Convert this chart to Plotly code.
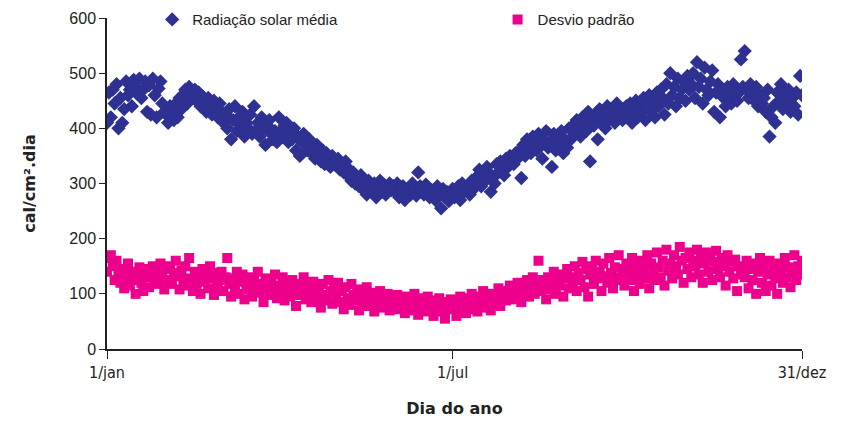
import plotly.graph_objects as go

radiacao_jan = [410, 465, 420, 470, 445, 480, 400, 455, 410, 435, 485, 460, 470, 440, 488, 475, 462, 490, 455, 470, 485, 430, 478, 425, 490, 460, 420, 472, 485, 445, 430]
radiacao_fev = [425, 410, 440, 430, 415, 445, 420, 455, 435, 460, 470, 445, 475, 462, 455, 470, 450, 465, 440, 458, 448, 430, 455, 440, 425, 450, 435, 420]
radiacao_mar = [445, 430, 410, 425, 400, 435, 380, 415, 440, 395, 420, 405, 430, 385, 410, 400, 425, 390, 440, 395, 410, 385, 420, 400, 370, 405, 415, 390, 380, 395, 375]
radiacao_abr = [420, 395, 385, 405, 410, 375, 395, 380, 400, 360, 385, 350, 375, 390, 370, 360, 380, 355, 365, 345, 370, 350, 340, 360, 335, 355, 345, 330, 350, 340]
radiacao_mai = [335, 345, 325, 330, 320, 340, 315, 325, 305, 320, 300, 310, 295, 315, 290, 300, 280, 305, 290, 285, 300, 275, 295, 305, 285, 298, 280, 292, 300, 288, 295]
radiacao_jun = [285, 300, 275, 290, 295, 270, 285, 292, 280, 300, 290, 278, 320, 295, 285, 280, 298, 290, 275, 288, 285, 270, 295, 280, 255, 290, 275, 285, 268, 280]
radiacao_jul = [290, 275, 285, 295, 270, 300, 285, 290, 295, 280, 305, 290, 310, 300, 325, 295, 315, 305, 330, 320, 285, 310, 300, 335, 320, 340, 325, 315, 345, 330, 350]
radiacao_ago = [340, 335, 355, 345, 360, 310, 370, 350, 380, 365, 355, 385, 375, 360, 390, 370, 345, 380, 395, 365, 375, 330, 390, 360, 385, 370, 395, 355, 380, 365, 400]
radiacao_set = [380, 405, 390, 415, 400, 385, 420, 410, 395, 430, 340, 415, 405, 425, 380, 435, 410, 420, 400, 440, 415, 430, 425, 410, 445, 420, 435, 415, 430, 440]
radiacao_out = [425, 445, 410, 435, 450, 420, 440, 430, 455, 415, 445, 460, 430, 450, 420, 465, 440, 470, 455, 425, 480, 445, 500, 460, 475, 440, 490, 455, 470, 485, 450]
radiacao_nov = [495, 470, 480, 500, 455, 520, 475, 490, 445, 510, 470, 460, 485, 505, 430, 465, 480, 420, 470, 455, 440, 475, 460, 445, 480, 470, 450, 465, 525, 475]
radiacao_dez = [540, 470, 455, 480, 465, 450, 475, 440, 460, 445, 455, 430, 470, 385, 420, 440, 410, 465, 450, 480, 435, 460, 445, 470, 430, 455, 440, 465, 425, 495, 460]

desvio_jan = [140, 165, 170, 150, 125, 160, 135, 120, 145, 110, 130, 155, 115, 140, 125, 100, 135, 148, 120, 105, 130, 145, 112, 138, 150, 125, 140, 118, 155, 132, 108]
desvio_fev = [145, 125, 150, 118, 138, 160, 132, 108, 142, 125, 150, 115, 165, 128, 105, 140, 118, 132, 100, 145, 122, 135, 110, 150, 128, 98, 138, 115]
desvio_mar = [125, 140, 105, 130, 165, 118, 95, 128, 112, 140, 100, 122, 135, 90, 118, 108, 130, 95, 125, 112, 140, 102, 118, 85, 128, 110, 98, 122, 105, 135, 92]
desvio_abr = [115, 100, 130, 88, 120, 105, 95, 125, 110, 78, 118, 98, 108, 130, 90, 115, 100, 85, 122, 105, 92, 112, 75, 118, 98, 88, 125, 105, 82, 110]
desvio_mai = [95, 120, 85, 105, 72, 112, 92, 80, 118, 98, 88, 108, 70, 100, 85, 95, 112, 78, 102, 90, 68, 98, 85, 105, 75, 92, 82, 100, 70, 88, 95]
desvio_jun = [80, 98, 72, 90, 85, 65, 95, 78, 88, 70, 100, 82, 62, 92, 75, 85, 68, 95, 80, 72, 60, 88, 75, 92, 68, 80, 55, 85, 72, 90]
desvio_jul = [75, 88, 60, 82, 95, 70, 85, 65, 92, 78, 100, 72, 88, 68, 95, 80, 105, 75, 90, 85, 70, 100, 82, 95, 110, 78, 92, 105, 88, 98, 115]
desvio_ago = [90, 108, 95, 120, 100, 85, 115, 105, 125, 95, 110, 130, 100, 118, 160, 105, 125, 112, 90, 130, 108, 120, 140, 100, 125, 115, 135, 95, 128, 145, 110]
desvio_set = [130, 120, 150, 105, 138, 125, 158, 112, 145, 95, 135, 150, 118, 160, 128, 140, 105, 155, 132, 120, 165, 138, 110, 148, 125, 170, 130, 145, 115, 155]
desvio_out = [140, 125, 165, 105, 150, 135, 118, 160, 145, 128, 170, 110, 155, 138, 125, 175, 148, 130, 160, 115, 180, 142, 155, 128, 170, 150, 135, 185, 160, 120, 165]
desvio_nov = [145, 175, 130, 160, 150, 180, 135, 165, 120, 155, 175, 140, 168, 125, 158, 178, 145, 130, 165, 150, 115, 170, 140, 158, 128, 162, 105, 150, 135, 145]
desvio_dez = [130, 160, 110, 145, 125, 155, 100, 140, 165, 120, 150, 105, 135, 160, 115, 145, 128, 100, 155, 138, 120, 165, 130, 148, 112, 140, 170, 125, 150, 135, 160]

tick_days = [1, 182, 365]
tick_labels = ["1/jan", "1/jul", "31/dez"]

radiacao = (radiacao_jan + radiacao_fev + radiacao_mar + radiacao_abr + radiacao_mai + radiacao_jun
            + radiacao_jul + radiacao_ago + radiacao_set + radiacao_out + radiacao_nov + radiacao_dez)
desvio = (desvio_jan + desvio_fev + desvio_mar + desvio_abr + desvio_mai + desvio_jun
          + desvio_jul + desvio_ago + desvio_set + desvio_out + desvio_nov + desvio_dez)
dias = list(range(1, len(radiacao) + 1))

fig = go.Figure()
fig.add_trace(go.Scatter(
    x=dias, y=radiacao, mode="markers", name="Radiação solar média",
    marker=dict(symbol="diamond", size=11, color="#2E3192", line=dict(width=0)),
    legend="legend2", showlegend=True,
))
fig.add_trace(go.Scatter(
    x=dias, y=desvio, mode="markers", name="Desvio padrão",
    marker=dict(symbol="square", size=10, color="#EC008C", line=dict(width=0)),
    legend="legend3", showlegend=True,
))

leg_font = dict(family="Liberation Sans, Arial, sans-serif", size=15, color="#222")
fig.update_layout(
    width=836, height=418,
    margin=dict(l=99, r=42, t=10, b=77, autoexpand=False),
    paper_bgcolor="white", plot_bgcolor="white",
    font=dict(family="DejaVu Sans, Verdana, sans-serif", size=15, color="#222"),
    showlegend=True,
    legend2=dict(
        orientation="h", x=0.065, y=0.995, xanchor="left", yanchor="middle",
        font=leg_font, bgcolor="rgba(0,0,0,0)", visible=True,
    ),
    legend3=dict(
        orientation="h", x=0.562, y=0.995, xanchor="left", yanchor="middle",
        font=leg_font, bgcolor="rgba(0,0,0,0)", visible=True,
    ),
    xaxis=dict(
        range=[1, 365], tickvals=tick_days, ticktext=tick_labels,
        showline=True, linecolor="#222", linewidth=1.5,
        ticks="outside", ticklen=8, tickcolor="#222", showgrid=False, zeroline=False,
        title=dict(text="<b>Dia do ano</b>", font=dict(size=16), standoff=22),
        tickfont=dict(family="DejaVu Sans Condensed, DejaVu Sans, sans-serif", size=16),
    ),
    yaxis=dict(
        range=[0, 600], tickvals=[0, 100, 200, 300, 400, 500, 600],
        showline=True, linecolor="#222", linewidth=1.5,
        ticks="outside", ticklen=6, tickcolor="#222", showgrid=False, zeroline=False,
        title=dict(text="<b>cal/cm².dia</b>", font=dict(size=16), standoff=30),
        tickfont=dict(family="Liberation Sans, Arial, sans-serif", size=16),
    ),
)

fig.write_html("out.html")
